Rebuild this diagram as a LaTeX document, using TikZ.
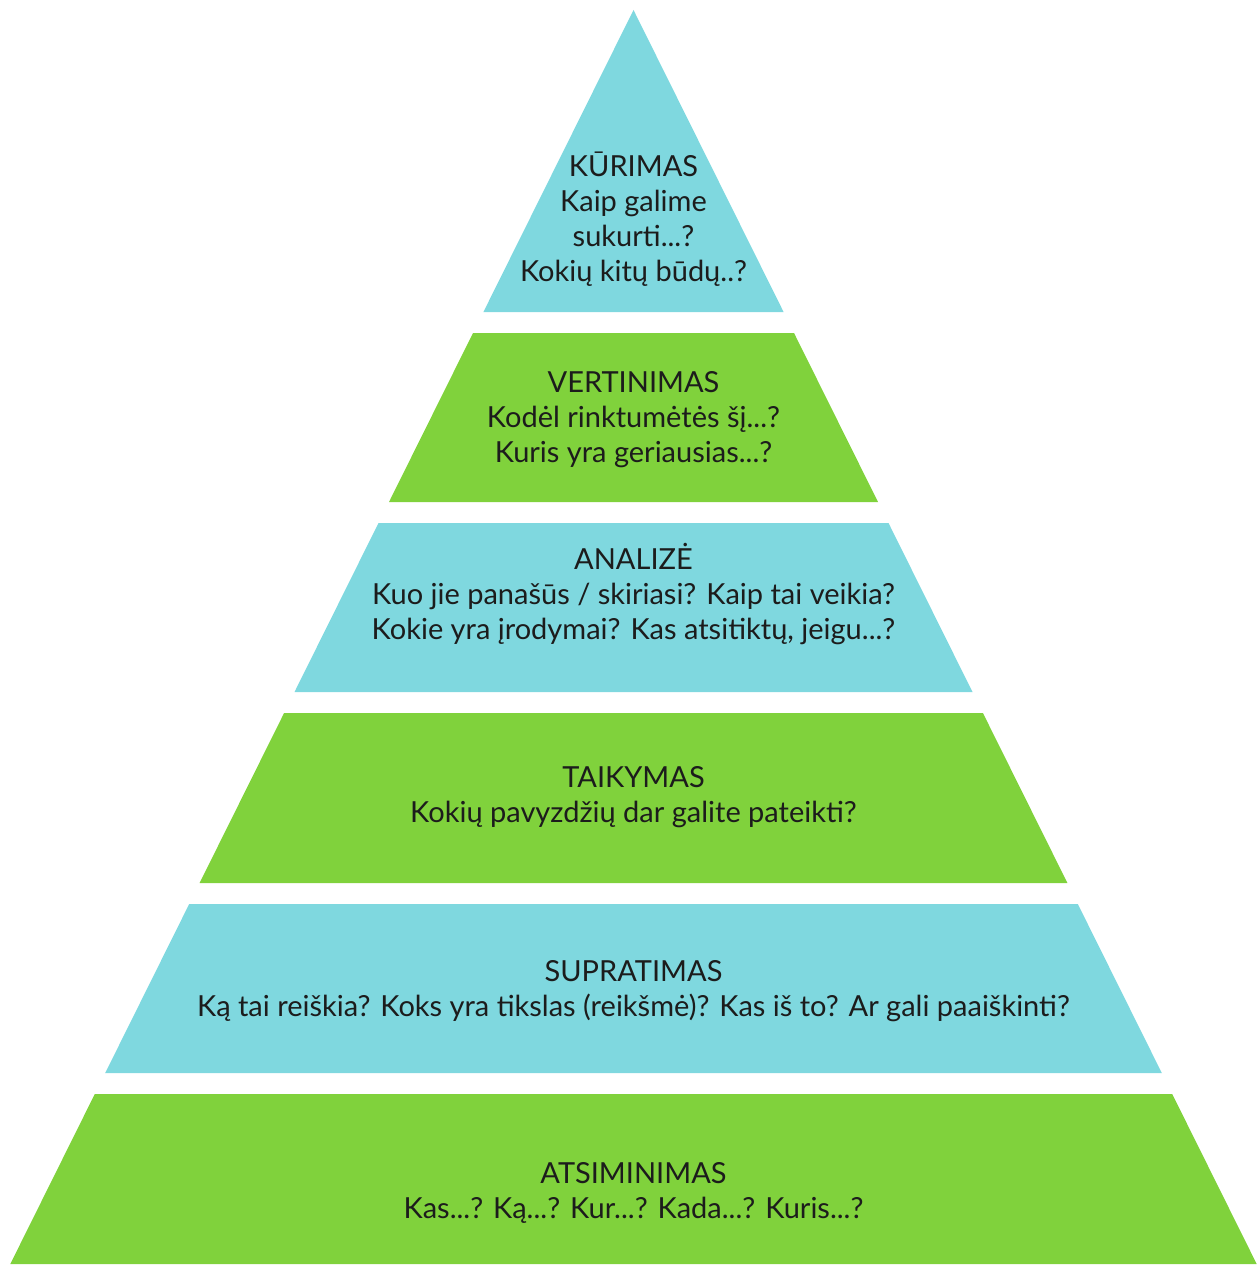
\documentclass[tikz,border=0pt]{standalone}
\usepackage{fontspec}
\setmainfont{Lato}
\definecolor{tierblue}{HTML}{7FD8DF}
\definecolor{tiergreen}{HTML}{80D23C}
\definecolor{tiertext}{HTML}{1C1C1C}
\begin{document}
\begin{tikzpicture}[x=1pt,y=-1pt,
  bluetier/.style={fill=tierblue,draw=none},
  greentier/.style={fill=tiergreen,draw=none},
  % base anchor sits on the baseline of the last line
  tierlabel/.style={anchor=base,align=center,inner sep=0pt,text=tiertext,
    font=\fontsize{29}{35}\selectfont}]
\useasboundingbox (0,0) rectangle (1259,1265);
% pyramid tiers, apex at the top
\fill[bluetier]  (633.5,10) -- (783.6,312) -- (483.4,312) -- cycle;
\fill[greentier] (473,333) -- (794,333) -- (878,502) -- (389,502) -- cycle;
\fill[bluetier]  (378.5,523) -- (888.5,523) -- (972.5,692) -- (294.5,692) -- cycle;
\fill[greentier] (284.1,713) -- (982.9,713) -- (1067.4,883) -- (199.6,883) -- cycle;
\fill[bluetier]  (189.2,904) -- (1077.8,904) -- (1161.8,1073) -- (105.2,1073) -- cycle;
\fill[greentier] (94.8,1094) -- (1172.2,1094) -- (1256.7,1264) -- (10.3,1264) -- cycle;
% tier labels
\node[tierlabel] (kurimas) at (633.5,281) {KŪRIMAS\\Kaip galime\\sukurti...?\\Kokių kitų būdų..?};
\node[tierlabel] (vertinimas) at (633.5,462) {VERTINIMAS\\Kodėl rinktumėtės šį...?\\Kuris yra geriausias...?};
\node[tierlabel] (analize) at (633.5,639) {ANALIZĖ\\Kuo jie panašūs / skiriasi? Kaip tai veikia?\\Kokie yra įrodymai? Kas atsitiktų, jeigu...?};
\node[tierlabel] (taikymas) at (633.5,822) {TAIKYMAS\\Kokių pavyzdžių dar galite pateikti?};
\node[tierlabel] (supratimas) at (633.5,1016) {SUPRATIMAS\\Ką tai reiškia? Koks yra tikslas (reikšmė)? Kas iš to? Ar gali paaiškinti?};
\node[tierlabel] (atsiminimas) at (633.5,1218) {ATSIMINIMAS\\Kas...? Ką...? Kur...? Kada...? Kuris...?};
\end{tikzpicture}
\end{document}
